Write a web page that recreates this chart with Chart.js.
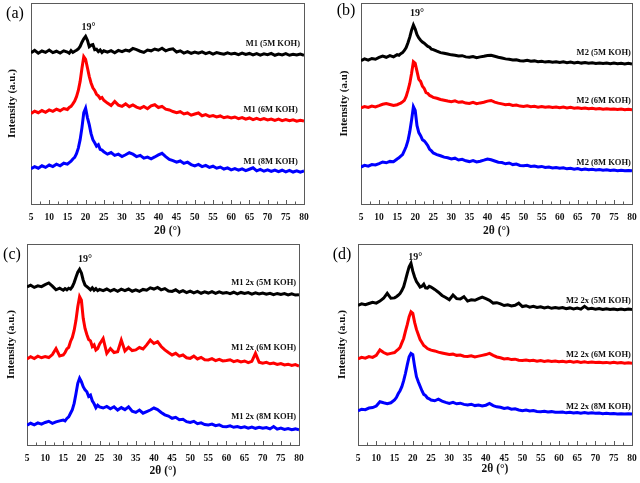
<!DOCTYPE html>
<html>
<head>
<meta charset="utf-8">
<script src="https://cdn.jsdelivr.net/npm/chart.js@4.4.0/dist/chart.umd.min.js"></script>
<style>
  body { margin: 0; background: #fff; width: 640px; height: 483px; position: relative; overflow: hidden; }
  canvas { position: absolute; }
</style>
</head>
<body>
<canvas id="pa" width="320" height="240" style="left:0;top:0"></canvas>
<canvas id="pb" width="320" height="240" style="left:320px;top:0"></canvas>
<canvas id="pc" width="320" height="243" style="left:0;top:240px"></canvas>
<canvas id="pd" width="320" height="243" style="left:320px;top:240px"></canvas>
<script>
// 2θ positions (degrees)
const twoTheta = [5,6,7,8,9,10,11,12,13,14,15,
  15.5,16,16.5,17,17.5,18,18.5,19,19.5,20,20.5,21,21.5,22,22.5,23,23.5,24,24.5,25,
  26,27,28,29,30,31,32,33,34,35,36,37,38,39,40,
  41,42,43,44,45,46,47,48,49,50,51,52,53,54,55,56,57,58,59,60,
  61,62,63,64,65,66,67,68,69,70,71,72,73,74,75,76,77,78,79,80];
const xTickValues = [5,10,15,20,25,30,35,40,45,50,55,60,65,70,75,80];

// intensities, stacked (offset) as in the figure, arbitrary units
// (a) M1
const m1_5M = [75.2,76.4,75.0,76.1,75.4,76.6,75.3,76.0,75.1,76.2,75.6,
  75.0,76.3,75.4,76.0,76.5,77.2,78.4,80.5,82.2,83.4,81.5,78.3,79.0,79.3,76.8,77.0,75.8,76.6,75.4,76.2,
  75.5,76.3,75.2,76.4,75.8,76.6,76.1,77.4,76.8,76.0,75.4,76.6,76.2,77.1,76.5,
  77.5,76.2,76.9,77.2,75.6,76.2,75.1,75.8,74.9,75.6,75.0,75.7,74.8,75.4,74.6,75.3,74.9,74.5,75.2,74.6,
  75.0,74.3,75.1,74.4,74.9,74.2,74.8,74.1,74.7,74.3,74.9,74.0,74.6,74.2,74.8,74.0,74.5,74.1,74.6,74.0];
const m1_6M = [45.0,46.2,45.4,46.5,45.6,46.8,46.1,47.2,46.4,47.5,47.0,
  48.0,48.6,49.8,51.2,53.4,56.5,61.0,67.5,73.3,72.0,67.8,63.5,60.2,57.8,56.5,54.6,53.8,52.5,53.0,51.6,
  50.2,49.0,51.0,49.2,48.6,49.8,48.4,49.3,48.2,47.6,48.5,47.4,48.8,49.4,48.0,
  48.6,47.2,46.8,46.0,45.4,45.9,44.8,45.3,44.2,44.8,45.3,43.9,44.5,43.6,44.0,43.3,43.8,42.9,43.4,42.8,
  43.3,42.5,43.0,42.2,42.8,42.0,42.6,41.9,42.5,41.8,42.3,41.6,42.2,41.5,42.0,41.4,41.9,41.2,41.7,41.3];
const m1_8M = [17.5,18.6,17.8,19.0,18.2,19.4,18.6,19.8,19.0,20.3,19.8,
  20.6,21.3,22.4,23.2,25.0,27.8,32.0,38.0,45.5,47.7,43.0,39.5,35.0,32.0,30.5,28.8,29.5,27.2,26.8,26.0,
  24.8,25.6,24.2,24.8,23.6,24.5,25.5,24.8,23.6,24.2,22.8,23.3,22.5,23.4,24.4,
  25.2,23.6,22.2,21.6,20.8,21.4,20.2,20.8,19.6,19.0,19.7,18.6,19.2,18.2,18.8,17.8,18.4,17.4,18.0,17.0,
  17.6,16.8,17.5,16.6,17.3,18.0,16.5,17.2,16.3,17.0,16.2,16.9,16.1,16.8,16.0,16.7,15.9,16.5,15.8,16.4];
// (b) M2
const m2_5M = [71.3,72.2,71.6,72.4,72.0,72.9,73.6,73.0,73.8,73.2,74.3,
  74.0,74.8,75.3,76.4,77.8,80.2,83.0,86.5,89.0,87.0,84.2,82.6,81.5,80.6,80.0,79.2,78.4,78.0,77.0,76.8,
  76.0,75.3,75.0,74.6,74.2,74.0,73.6,73.8,73.2,73.0,73.4,72.8,73.2,73.5,73.9,
  74.0,73.5,73.0,72.6,72.2,72.0,71.6,71.8,71.3,71.1,71.5,71.0,71.2,70.8,71.0,70.6,70.9,70.5,70.8,70.4,
  70.7,70.3,70.6,70.2,70.5,70.1,70.4,70.0,70.3,69.9,70.2,69.9,70.1,69.8,70.1,69.8,70.0,69.7,70.0,69.7];
const m2_6M = [47.8,48.5,48.0,48.7,48.3,48.9,49.6,50.0,49.5,49.0,49.4,
  49.8,50.2,50.8,51.6,53.5,56.5,60.0,65.0,70.8,70.0,66.0,62.0,61.0,58.6,57.5,55.4,55.0,54.0,53.6,53.0,
  52.6,52.0,51.6,51.2,50.9,51.3,50.6,50.8,50.2,50.0,50.6,49.9,50.3,50.6,51.2,
  51.5,50.7,50.2,49.8,49.4,49.6,49.0,49.2,48.7,48.5,48.9,48.4,48.6,48.2,48.5,48.1,48.4,48.0,48.3,47.9,
  48.2,47.8,48.1,47.7,47.9,47.5,47.8,47.4,47.6,47.3,47.5,47.2,47.4,47.1,47.3,47.0,47.2,46.9,47.1,46.9];
const m2_8M = [18.4,19.2,18.8,19.6,19.4,20.1,20.9,20.5,21.2,21.0,22.4,
  23.0,23.8,24.6,26.5,28.6,31.5,36.0,41.8,48.4,46.5,39.0,35.5,34.0,32.0,31.4,30.3,29.0,27.2,26.4,25.4,
  24.6,24.0,23.3,23.0,22.4,22.8,21.9,22.2,21.5,21.1,21.6,20.9,21.3,21.8,22.4,
  22.0,21.4,20.8,20.6,20.0,20.4,19.6,19.9,19.2,19.0,19.3,18.7,18.9,18.4,18.7,18.2,18.4,17.9,18.2,17.8,
  18.0,17.5,17.8,17.3,17.6,17.1,17.4,17.0,17.3,16.9,17.2,16.8,17.0,16.7,16.9,16.6,16.8,16.5,16.7,16.5];
// (c) M1 2x
const m1x_5M = [78.6,79.5,78.4,79.2,78.8,79.8,80.6,79.0,77.2,78.0,77.0,
  77.8,77.2,78.0,77.6,78.8,80.8,83.5,86.0,87.4,85.6,82.0,79.6,78.8,78.0,77.2,78.2,77.0,77.8,76.8,77.4,
  76.8,77.6,76.6,77.4,76.5,77.5,76.8,77.6,76.5,77.2,76.4,77.4,77.0,78.2,77.6,
  78.4,77.2,77.8,76.6,76.4,77.2,76.0,76.8,75.8,76.6,75.7,76.4,75.5,76.2,75.6,76.3,75.4,76.2,75.5,75.9,
  75.3,76.0,75.2,75.9,75.4,75.8,75.1,75.7,75.2,75.6,75.0,75.5,74.8,75.4,74.9,75.3,74.7,75.2,74.6,74.8];
const m1x_6M = [42.8,43.9,43.0,44.2,43.4,44.0,43.5,45.0,48.0,44.3,44.8,
  46.0,47.8,48.6,51.5,53.5,57.0,62.0,68.8,73.8,72.0,63.0,58.0,55.0,52.5,51.8,49.0,49.8,47.3,48.0,50.2,
  53.0,45.6,48.0,46.0,46.4,52.2,46.8,48.6,47.0,47.3,48.5,47.8,49.8,52.2,50.5,
  51.4,49.0,47.3,46.0,44.8,45.6,44.2,44.8,43.4,43.1,44.2,42.8,43.6,42.4,42.3,43.0,42.0,42.6,41.8,42.0,
  42.4,41.5,42.0,41.3,41.8,41.0,41.6,45.6,41.2,40.7,41.1,40.4,40.8,40.1,40.5,39.8,40.2,39.6,40.0,39.3];
const m1x_8M = [9.8,10.8,10.0,11.0,10.4,11.2,11.8,10.8,11.5,12.0,12.4,
  12.0,13.2,14.0,15.8,17.6,20.7,25.5,30.7,33.2,31.5,29.0,27.4,26.5,24.2,24.8,22.0,20.5,18.5,19.8,19.0,
  18.4,19.2,18.0,19.0,17.4,18.6,17.6,19.0,16.8,16.2,17.4,15.8,16.6,17.4,18.4,
  17.6,16.2,15.0,14.4,13.3,13.8,12.6,12.8,11.6,11.2,11.8,10.6,11.0,10.2,10.0,10.4,9.6,10.0,9.2,9.1,
  9.5,8.8,9.2,8.6,9.0,8.4,8.9,8.3,8.8,8.3,8.7,8.0,9.2,7.9,8.4,7.7,8.2,7.6,8.0,7.5];
// (d) M2 2x
const m2x_5M = [69.5,70.2,69.8,70.4,71.0,70.6,71.6,73.0,75.5,73.0,73.2,
  73.8,74.5,75.4,76.8,78.8,82.0,85.5,88.7,90.4,86.5,83.6,81.3,80.0,78.6,79.0,80.0,78.2,78.0,79.0,78.6,
  77.4,76.0,74.4,73.4,72.3,74.6,72.8,72.6,73.8,71.6,72.2,72.0,72.8,73.6,72.8,
  72.0,70.6,70.8,70.2,69.4,69.8,69.2,69.5,70.6,68.9,69.3,68.6,69.0,68.4,68.8,68.2,68.6,68.0,68.4,68.0,
  68.4,67.8,68.2,67.7,68.1,67.6,69.0,67.7,68.0,67.6,67.9,67.4,67.8,67.4,67.7,67.3,67.6,67.3,67.6,67.4];
const m2x_6M = [42.8,43.6,43.2,44.0,43.6,44.6,47.3,46.0,45.2,45.6,46.0,
  46.8,47.6,48.5,50.8,53.0,56.6,60.0,63.8,66.3,65.5,61.0,57.5,55.0,52.4,51.0,49.5,48.8,48.0,47.6,47.2,
  46.8,46.2,45.8,45.4,45.0,45.2,44.6,44.8,44.2,44.0,44.4,43.8,44.2,44.6,45.0,
  45.6,44.6,43.8,43.4,42.8,43.0,42.5,42.7,42.2,42.0,42.3,41.9,42.1,41.7,42.0,41.6,41.9,41.5,41.8,41.4,
  41.7,41.3,41.6,41.2,41.5,41.1,41.4,41.0,41.3,41.0,41.2,40.9,41.1,40.8,41.1,40.8,41.0,40.7,40.9,40.7];
const m2x_8M = [17.0,17.8,17.6,18.4,18.6,19.4,21.5,21.0,20.6,21.0,22.4,
  23.6,25.5,27.0,29.0,32.0,35.7,40.0,43.9,45.6,45.0,39.0,34.0,31.5,29.2,27.0,25.2,24.6,23.4,23.0,22.4,
  22.0,22.8,21.8,21.2,20.7,21.2,20.5,20.8,20.2,19.9,20.3,19.6,19.9,19.4,19.8,
  20.7,19.6,19.0,18.8,18.2,18.5,17.8,18.0,17.4,17.1,17.4,16.9,17.1,16.7,16.6,16.8,16.4,16.6,16.3,16.3,
  16.4,16.0,16.3,15.9,16.2,15.8,16.1,15.8,16.0,15.8,15.9,15.6,15.8,15.5,15.7,15.4,15.6,15.4,15.5,15.4];

const seriesColors = ['#000000', '#ff0000', '#0000ff'];
const serif = '"Liberation Serif", "Times New Roman", serif';

const decor = {
  id: 'decor',
  beforeDatasetsDraw(chart) {
    const { ctx, chartArea: a, scales: { x } } = chart;
    ctx.save();
    ctx.strokeStyle = '#5a5a5a';
    ctx.lineWidth = 1;
    ctx.strokeRect(Math.round(a.left) + 0.5, Math.round(a.top) + 0.5,
      Math.round(a.right - a.left), Math.round(a.bottom - a.top));
    // inward ticks on the bottom axis
    ctx.beginPath();
    for (let v = 5; v <= 80; v += 2.5) {
      const px = Math.round(x.getPixelForValue(v)) + 0.5;
      const len = v % 5 === 0 ? 4 : 2.5;
      ctx.moveTo(px, a.bottom);
      ctx.lineTo(px, a.bottom - len);
    }
    ctx.stroke();
    ctx.restore();
  },
  afterDatasetsDraw(chart, args, o) {
    const { ctx, scales: { x, y } } = chart;
    ctx.save();
    ctx.fillStyle = '#111';
    ctx.font = 'bold 8.5px ' + serif;
    ctx.textAlign = 'right';
    ctx.textBaseline = 'middle';
    o.names.forEach((n, i) => {
      ctx.fillText(n, x.getPixelForValue(o.labelX[i]), y.getPixelForValue(o.labelY[i]));
    });
    ctx.font = 'bold 10px ' + serif;
    ctx.textAlign = 'center';
    ctx.fillText('19°', x.getPixelForValue(o.peak[0]), y.getPixelForValue(o.peak[1]));
    ctx.font = '16px ' + serif;
    ctx.fillStyle = '#000';
    ctx.fillText(o.tag, o.tagPos[0], o.tagPos[1]);
    ctx.restore();
  }
};

function makePanel(p) {
  new Chart(document.getElementById(p.id), {
    type: 'line',
    data: {
      datasets: p.series.map((s, k) => ({
        data: twoTheta.map((t, i) => ({ x: t, y: s[i] })),
        borderColor: seriesColors[k],
        borderWidth: 3,
        pointRadius: 0,
        tension: 0,
        fill: false
      }))
    },
    options: {
      responsive: false,
      animation: false,
      events: [],
      layout: { padding: { left: 0, top: p.pad[0], right: p.pad[1], bottom: 0 } },
      plugins: {
        legend: { display: false },
        tooltip: { enabled: false },
        decor: p.decor
      },
      scales: {
        x: {
          type: 'linear', min: 5, max: 80,
          afterBuildTicks: s => { s.ticks = xTickValues.map(v => ({ value: v })); },
          afterFit: s => { s.height = p.xH; },
          grid: { display: false },
          border: { display: false },
          ticks: { color: '#111', padding: 0, font: { family: serif, size: 9.5, weight: 'bold' } },
          title: { display: true, text: '2θ (°)', color: '#111',
            padding: { top: 0, bottom: p.xTitlePad },
            font: { family: serif, size: 11.5, weight: 'bold' } }
        },
        y: {
          min: 0, max: 100,
          afterFit: s => { s.width = p.yW; },
          grid: { display: false },
          border: { display: false },
          ticks: { display: false },
          title: { display: true, text: p.yTitle, color: '#111',
            padding: { top: p.yTitlePad, bottom: 0 },
            font: { family: serif, size: 11, weight: 'bold' } }
        }
      }
    },
    plugins: [decor]
  });
}

makePanel({
  id: 'pa', series: [m1_5M, m1_6M, m1_8M], pad: [3, 16], yW: 31, xH: 36,
  xTitlePad: 2, yTitlePad: 6, yTitle: 'Intensity (a.u.)',
  decor: { names: ['M1 (5M KOH)', 'M1 (6M KOH)', 'M1 (8M KOH)'],
    labelX: [78.9, 78.3, 78.3], labelY: [79.6, 46.8, 20.9], peak: [20.8, 88], tag: '(a)', tagPos: [15, 14] }
});
makePanel({
  id: 'pb', series: [m2_5M, m2_6M, m2_8M], pad: [3, 8], yW: 41, xH: 36,
  xTitlePad: 2, yTitlePad: 18, yTitle: 'Intensity (a.u)',
  decor: { names: ['M2 (5M KOH)', 'M2 (6M KOH)', 'M2 (8M KOH)'],
    labelX: [79.7, 79.7, 79.7], labelY: [75.1, 51.2, 20.4], peak: [20.5, 95], tag: '(b)', tagPos: [26, 11] }
});
makePanel({
  id: 'pc', series: [m1x_5M, m1x_6M, m1x_8M], pad: [4, 21], yW: 27, xH: 38,
  xTitlePad: 5, yTitlePad: 5, yTitle: 'Intensity (a.u.)',
  decor: { names: ['M1 2x (5M KOH)', 'M1 2x (6M KOH)', 'M1 2x (8M KOH)'],
    labelX: [79.2, 79.2, 79.2], labelY: [80.6, 48.3, 13.9], peak: [21.0, 92.5], tag: '(c)', tagPos: [12, 15] }
});
makePanel({
  id: 'pd', series: [m2x_5M, m2x_6M, m2x_8M], pad: [4, 8], yW: 38, xH: 38,
  xTitlePad: 7, yTitlePad: 16, yTitle: 'Intensity (a.u.)',
  decor: { names: ['M2 2x (5M KOH)', 'M2 2x (6M KOH)', 'M2 2x (8M KOH)'],
    labelX: [79.7, 79.7, 79.7], labelY: [71.6, 44.8, 18.9], peak: [20.7, 93.5], tag: '(d)', tagPos: [22, 15] }
});
</script>
</body>
</html>
